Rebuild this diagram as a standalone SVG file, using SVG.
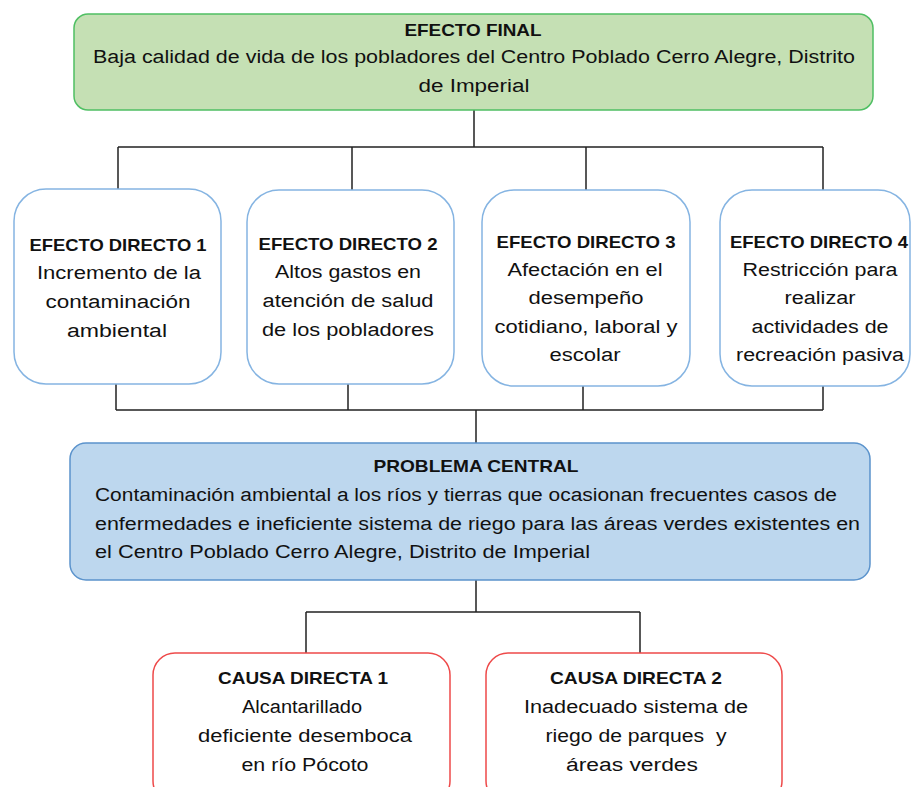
<svg xmlns="http://www.w3.org/2000/svg" width="912" height="787" viewBox="0 0 912 787">
<style>
text{font-family:"Liberation Sans",Arial,sans-serif;font-size:18px;fill:#111;text-anchor:middle}
.b{font-weight:bold;font-size:17px}
.l{text-anchor:start}
.fin{fill:#c5e0b4;stroke:#4fbf63;stroke-width:1.5}
.ef{fill:#fff;stroke:#85b4e2;stroke-width:1.5}
.pc{fill:#bdd7ee;stroke:#5b93cc;stroke-width:1.5}
.ca{fill:#fff;stroke:#ee4a4a;stroke-width:1.5}
.c{fill:none;stroke:#222;stroke-width:1.5}
</style>
<rect width="912" height="787" fill="#fff"/>
<g id="connectors">
<path class="c" d="M474 110V147M118 147H823M118 147V190M352 147V190M586 147V190M823 147V190"/>
<path class="c" d="M116 384V410M348 384V410M583 386V410M823 386V410M116 410H823M476 410V443"/>
<path class="c" d="M476 580V612M306 612H640M306 612V653M640 612V653"/>
</g>
<g id="efecto-final">
<rect class="fin" x="74" y="14" width="799" height="96" rx="14"/>
<text class="b" x="473" y="36" textLength="137" lengthAdjust="spacingAndGlyphs">EFECTO FINAL</text>
<text x="474" y="63" textLength="762" lengthAdjust="spacingAndGlyphs">Baja calidad de vida de los pobladores del Centro Poblado Cerro Alegre, Distrito</text>
<text x="474" y="92" textLength="111" lengthAdjust="spacingAndGlyphs">de Imperial</text>
</g>
<g id="efecto-directo-1">
<rect class="ef" x="14" y="189" width="207" height="195" rx="32"/>
<text class="b" x="118" y="251" textLength="177" lengthAdjust="spacingAndGlyphs">EFECTO DIRECTO 1</text>
<text x="119" y="279" textLength="164" lengthAdjust="spacingAndGlyphs">Incremento de la</text>
<text x="118" y="308" textLength="145" lengthAdjust="spacingAndGlyphs">contaminación</text>
<text x="117" y="337" textLength="100" lengthAdjust="spacingAndGlyphs">ambiental</text>
</g>
<g id="efecto-directo-2">
<rect class="ef" x="247" y="190" width="207" height="194" rx="32"/>
<text class="b" x="348" y="250" textLength="179" lengthAdjust="spacingAndGlyphs">EFECTO DIRECTO 2</text>
<text x="348" y="278" textLength="146" lengthAdjust="spacingAndGlyphs">Altos gastos en</text>
<text x="348" y="307" textLength="171" lengthAdjust="spacingAndGlyphs">atención de salud</text>
<text x="348" y="336" textLength="172" lengthAdjust="spacingAndGlyphs">de los pobladores</text>
</g>
<g id="efecto-directo-3">
<rect class="ef" x="482" y="190" width="208" height="196" rx="32"/>
<text class="b" x="586" y="248" textLength="179" lengthAdjust="spacingAndGlyphs">EFECTO DIRECTO 3</text>
<text x="585" y="276" textLength="155" lengthAdjust="spacingAndGlyphs">Afectación en el</text>
<text x="586" y="304" textLength="115" lengthAdjust="spacingAndGlyphs">desempeño</text>
<text x="586" y="333" textLength="183" lengthAdjust="spacingAndGlyphs">cotidiano, laboral y</text>
<text x="585" y="361" textLength="71" lengthAdjust="spacingAndGlyphs">escolar</text>
</g>
<g id="efecto-directo-4">
<rect class="ef" x="720" y="190" width="190" height="196" rx="32"/>
<text class="b" x="819" y="248" textLength="178" lengthAdjust="spacingAndGlyphs">EFECTO DIRECTO 4</text>
<text x="820" y="276" textLength="155" lengthAdjust="spacingAndGlyphs">Restricción para</text>
<text x="820" y="304" textLength="71" lengthAdjust="spacingAndGlyphs">realizar</text>
<text x="820" y="333" textLength="137" lengthAdjust="spacingAndGlyphs">actividades de</text>
<text x="820" y="361" textLength="168" lengthAdjust="spacingAndGlyphs">recreación pasiva</text>
</g>
<g id="problema-central">
<rect class="pc" x="70" y="443" width="800" height="137" rx="16"/>
<text class="b" x="476" y="472" textLength="205" lengthAdjust="spacingAndGlyphs">PROBLEMA CENTRAL</text>
<text class="l" x="95" y="501" textLength="742" lengthAdjust="spacingAndGlyphs">Contaminación ambiental a los ríos y tierras que ocasionan frecuentes casos de</text>
<text class="l" x="95" y="530" textLength="765" lengthAdjust="spacingAndGlyphs">enfermedades e ineficiente sistema de riego para las áreas verdes existentes en</text>
<text class="l" x="95" y="558" textLength="495" lengthAdjust="spacingAndGlyphs">el Centro Poblado Cerro Alegre, Distrito de Imperial</text>
</g>
<g id="causa-directa-1">
<rect class="ca" x="153" y="653" width="297" height="150" rx="22"/>
<text class="b" x="303" y="684" textLength="170" lengthAdjust="spacingAndGlyphs">CAUSA DIRECTA 1</text>
<text x="302" y="713" textLength="120" lengthAdjust="spacingAndGlyphs">Alcantarillado</text>
<text x="305" y="742" textLength="214" lengthAdjust="spacingAndGlyphs">deficiente desemboca</text>
<text x="305" y="771" textLength="127" lengthAdjust="spacingAndGlyphs">en río Pócoto</text>
</g>
<g id="causa-directa-2">
<rect class="ca" x="486" y="653" width="296" height="150" rx="22"/>
<text class="b" x="636" y="684" textLength="172" lengthAdjust="spacingAndGlyphs">CAUSA DIRECTA 2</text>
<text x="636" y="713" textLength="224" lengthAdjust="spacingAndGlyphs">Inadecuado sistema de</text>
<text x="636" y="742" textLength="181" lengthAdjust="spacingAndGlyphs" xml:space="preserve">riego de parques  y</text>
<text x="632" y="771" textLength="132" lengthAdjust="spacingAndGlyphs">áreas verdes</text>
</g>
</svg>
